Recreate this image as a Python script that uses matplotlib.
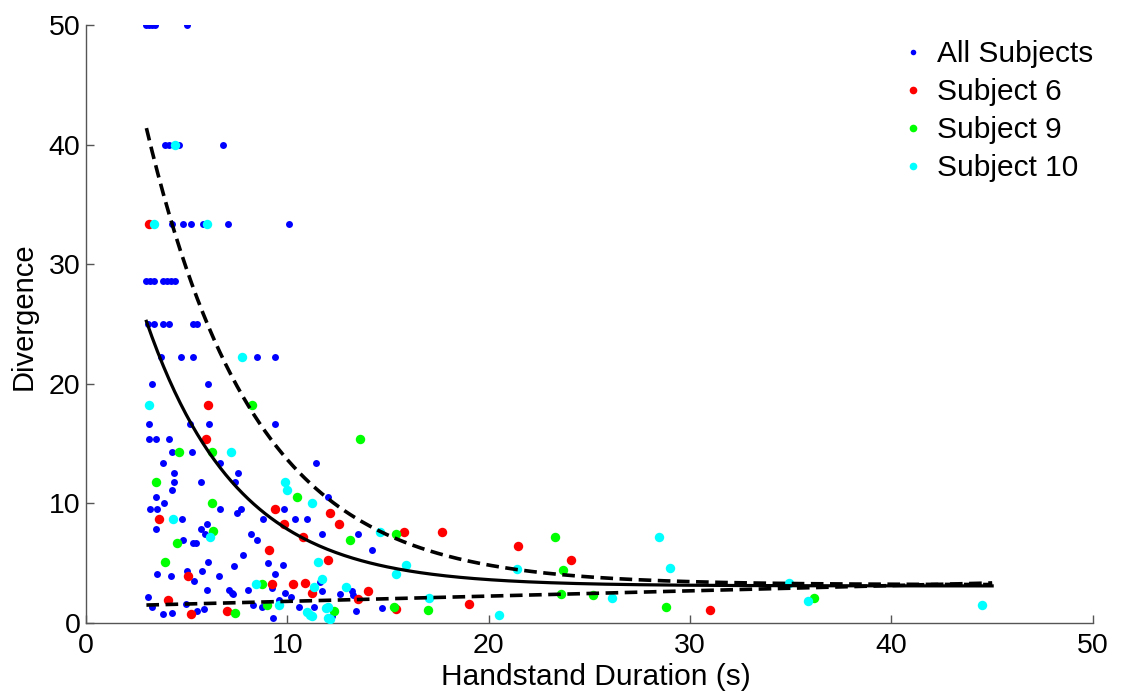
import numpy as np
import matplotlib
matplotlib.use("Agg")
import matplotlib.pyplot as plt
from matplotlib.lines import Line2D

plt.rcParams['font.family'] = ['Liberation Sans', 'DejaVu Sans']

# ---- data ----
all_x = [3.0, 3.15, 3.3, 3.45, 5.0,
         3.9, 4.1, 4.6, 6.8,
         3.2, 4.27, 4.8, 5.2, 5.8, 7.05, 10.1,
         3.0, 3.2, 3.4, 3.8, 4.0, 4.2, 4.4,
         3.1, 3.4, 3.8, 4.1, 5.3, 5.5,
         3.7, 4.7, 5.3, 8.5, 9.4,
         3.3, 6.05,
         3.13, 5.16, 6.1, 9.4,
         3.13, 3.5, 4.1,
         4.27, 5.25,
         3.8, 6.65, 11.4,
         4.37, 7.55,
         4.37, 5.7, 7.4,
         4.27,
         3.47, 12.0,
         3.87,
         3.18, 3.52, 6.65, 7.7, 9.83,
         7.5,
         4.77, 8.8, 10.4, 11.0,
         6.0,
         3.47, 5.7,
         5.9, 8.2, 11.7, 13.5,
         8.5, 4.8,
         5.3, 5.46,
         14.2, 7.8, 6.06, 9.04, 7.35, 9.78,
         5.0, 5.76, 3.52, 9.4, 4.22, 6.6, 5.36, 11.6, 11.3, 9.24,
         6.0, 7.1, 8.05, 11.7, 13.2, 7.25, 9.9, 7.3, 12.6, 13.25,
         3.08, 10.2, 9.6, 4.97, 8.3,
         3.28, 8.74, 10.6, 11.3, 14.7, 5.86, 5.5, 13.4, 4.27, 3.82, 12.2, 9.3]
all_y = [50, 50, 50, 50, 50,
         40, 40, 40, 40,
         33.33, 33.33, 33.33, 33.33, 33.33, 33.33, 33.33,
         28.57, 28.57, 28.57, 28.57, 28.57, 28.57, 28.57,
         25, 25, 25, 25, 25, 25,
         22.22, 22.22, 22.22, 22.22, 22.22,
         20, 20,
         16.6, 16.6, 16.6, 16.6,
         15.4, 15.4, 15.4,
         14.3, 14.3,
         13.4, 13.4, 13.4,
         12.5, 12.5,
         11.8, 11.8, 11.8,
         11.1,
         10.5, 10.5,
         10.0,
         9.5, 9.5, 9.5, 9.5, 9.5,
         9.2,
         8.7, 8.7, 8.7, 8.7,
         8.3,
         7.9, 7.9,
         7.4, 7.4, 7.4, 7.4,
         6.9, 6.9,
         6.7, 6.7,
         6.1, 5.7, 5.1, 5.0, 4.8, 4.85,
         4.35, 4.35, 4.1, 4.1, 3.9, 3.9, 3.5, 3.4, 3.0, 2.9,
         2.8, 2.8, 2.8, 2.7, 2.7, 2.5, 2.5, 2.4, 2.4, 2.3,
         2.2, 2.2, 1.9, 1.6, 1.5,
         1.35, 1.35, 1.35, 1.35, 1.25, 1.2, 1.0, 1.0, 0.84, 0.75, 0.55, 0.4]

s6_x = [3.13, 6.06, 5.96, 9.4, 12.1, 3.62, 9.83, 10.8, 9.1, 12.0, 5.06, 9.24,
        10.3, 10.9, 11.2, 4.07, 5.2, 7.0, 12.55, 15.8, 17.7, 21.45, 24.1,
        13.5, 14.0, 15.4, 19.0, 31.0]
s6_y = [33.33, 18.2, 15.4, 9.5, 9.2, 8.7, 8.3, 7.2, 6.1, 5.3, 3.9, 3.3,
        3.3, 3.35, 2.5, 1.9, 0.75, 1.0, 8.3, 7.6, 7.6, 6.4, 5.3,
        2.0, 2.7, 1.2, 1.6, 1.1]

s9_x = [8.24, 3.47, 4.6, 6.25, 10.5, 6.25, 6.3, 4.52, 3.92, 8.74, 7.4, 9.0,
        13.6, 13.1, 15.4, 23.3, 23.7, 12.3, 15.3, 17.0, 23.6, 25.2, 28.8, 36.15]
s9_y = [18.2, 11.8, 14.3, 14.3, 10.5, 10.0, 7.7, 6.7, 5.1, 3.3, 0.84, 1.5,
        15.4, 6.9, 7.4, 7.2, 4.4, 1.0, 1.35, 1.1, 2.4, 2.3, 1.35, 2.1]

s10_x = [3.38, 6.0, 4.4, 3.13, 7.75, 7.2, 9.9, 10.0, 11.2, 4.32, 6.16, 11.5,
         8.44, 11.3, 9.6, 11.0, 11.1, 12.0, 12.0, 14.6, 15.9, 15.4, 11.7, 12.9,
         11.9, 17.05, 20.5, 21.4, 28.45, 29.0, 34.9, 26.1, 35.85, 44.5, 11.2, 12.1]
s10_y = [33.33, 33.33, 40, 18.2, 22.2, 14.3, 11.8, 11.1, 10.0, 8.7, 7.2, 5.1,
         3.3, 3.0, 1.5, 0.9, 0.65, 1.35, 0.4, 7.6, 4.85, 4.1, 3.7, 3.0,
         1.25, 2.1, 0.67, 4.5, 7.2, 4.6, 3.35, 2.1, 1.85, 1.5, 0.55, 0.3]

# fitted model y = a*exp(-b*x) + c and its bounds
fit_range = (3.0, 45.0)
fit_params = (42.8, 0.22, 3.1)
upper_params = (66.5, 0.185, 3.2)
lower_line = (1.37, 0.044)  # intercept, slope

legend_labels = ['All Subjects', 'Subject 6', 'Subject 9', 'Subject 10']

# ---- figure ----
fig = plt.figure(figsize=(11.36, 6.93), dpi=100)
ax = fig.add_axes([0.0757, 0.101, 0.8863, 0.863])

ax.plot(all_x, all_y, 'o', color=(0, 0, 1), ms=5.0, mew=0, zorder=3)
ax.plot(s6_x, s6_y, 'o', color=(1, 0, 0), ms=6.8, mew=0, zorder=4)
ax.plot(s9_x, s9_y, 'o', color=(0, 1, 0), ms=6.8, mew=0, zorder=4)
ax.plot(s10_x, s10_y, 'o', color=(0, 1, 1), ms=6.8, mew=0, zorder=4)

xf = np.linspace(fit_range[0], fit_range[1], 300)
a, b, c = fit_params
ax.plot(xf, a * np.exp(-b * xf) + c, '-', color='black', lw=2.3, zorder=5)
a, b, c = upper_params
ax.plot(xf, a * np.exp(-b * xf) + c, '--', color='black', lw=2.6,
        dashes=(3.5, 1.8), zorder=5)
ax.plot(xf, lower_line[0] + lower_line[1] * xf, '--', color='black', lw=2.6,
        dashes=(3.5, 1.8), zorder=5)

ax.set_xlim(0, 50)
ax.set_ylim(0, 50)
ax.set_xticks(np.arange(0, 51, 10))
ax.set_yticks(np.arange(0, 51, 10))
ax.tick_params(direction='in', length=6, width=1, color='#555555',
               labelsize=20.5)
ax.tick_params(axis='x', pad=7)
ax.tick_params(axis='y', pad=4)
for s in ['top', 'right']:
    ax.spines[s].set_visible(False)
for s in ['left', 'bottom']:
    ax.spines[s].set_color('#555555')
    ax.spines[s].set_linewidth(1)

ax.set_xlabel('Handstand Duration (s)', fontsize=21.5)
ax.set_ylabel('Divergence', fontsize=21)
ax.xaxis.set_label_coords(0.506, -0.067)
ax.yaxis.set_label_coords(-0.0476, 0.513)

handles = [Line2D([], [], ls='none', marker='o', color=(0, 0, 1), ms=4.0, mew=0),
           Line2D([], [], ls='none', marker='o', color=(1, 0, 0), ms=5.5, mew=0),
           Line2D([], [], ls='none', marker='o', color=(0, 1, 0), ms=5.5, mew=0),
           Line2D([], [], ls='none', marker='o', color=(0, 1, 1), ms=5.5, mew=0)]
leg = ax.legend(handles, legend_labels, loc='upper left',
                bbox_to_anchor=(898 / 1136, 1 - 40 / 693),
                bbox_transform=fig.transFigure, frameon=False, fontsize=21.5,
                handlelength=1.0, handletextpad=0.3, labelspacing=0.34,
                borderpad=0, borderaxespad=0)

fig.savefig('out.png', dpi=100)
